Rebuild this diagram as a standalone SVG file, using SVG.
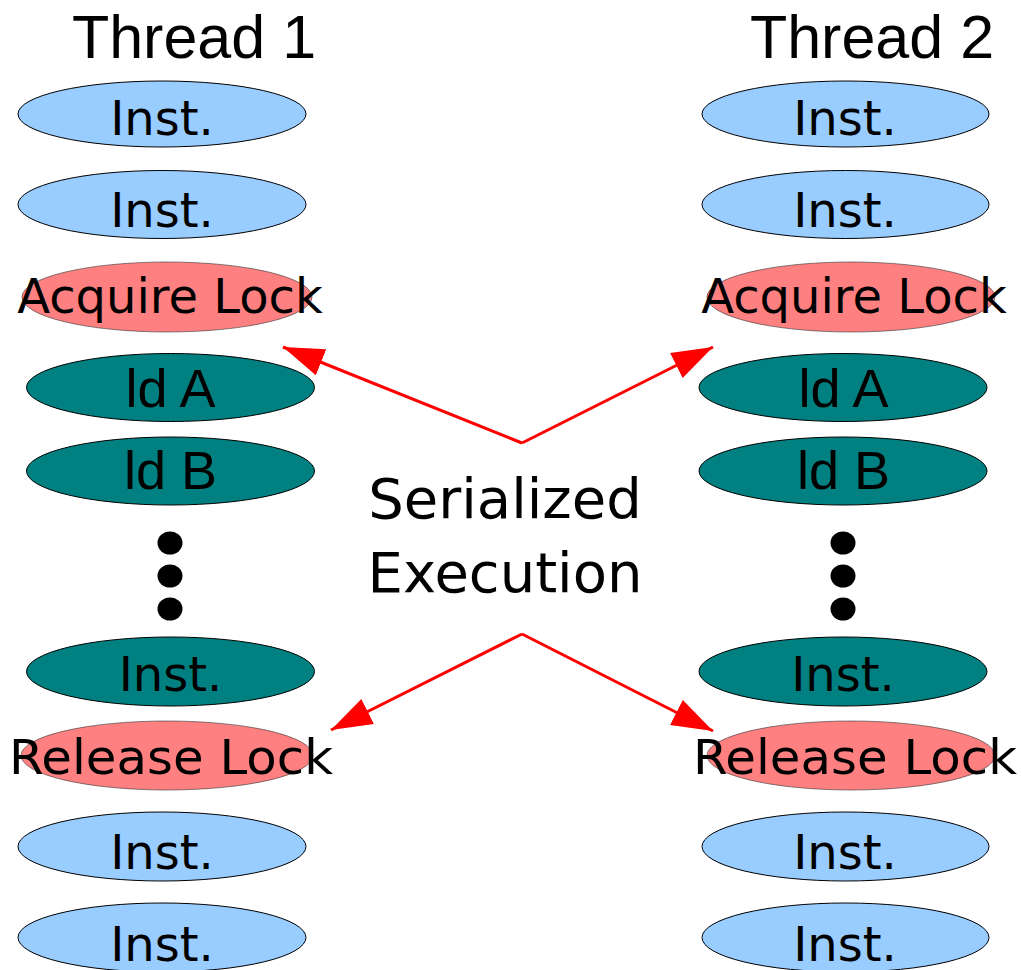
<svg xmlns="http://www.w3.org/2000/svg" width="1021" height="970" viewBox="0 0 1021 970">
<style>
.blue{fill:#99CCFF;stroke:#000;stroke-width:1}
.teal{fill:#008080;stroke:#000;stroke-width:1}
.pink{fill:#FF8080;stroke:#333;stroke-width:0.6}
.dot{fill:#000}
.t{font-family:"DejaVu Sans",sans-serif;font-size:48px;fill:#000;text-anchor:middle}
.a{font-family:"Liberation Sans",Arial,sans-serif;font-size:54px;fill:#000;text-anchor:middle}
.h{font-family:"Liberation Sans",Arial,sans-serif;font-size:61px;fill:#000;text-anchor:middle}
.m{font-family:"DejaVu Sans",sans-serif;font-size:56px;fill:#000;text-anchor:middle}
.c{fill:none;stroke:#FF0000;stroke-width:3}
</style>
<defs>
<marker id="ah" markerUnits="userSpaceOnUse" markerWidth="42" markerHeight="30" refX="41" refY="14" orient="auto">
<path d="M0,0 L41,14 L0,28 z" fill="#FF0000"/>
</marker>
</defs>
<g id="title1"><text class="h" x="194" y="58">Thread 1</text></g>
<g id="title2"><text class="h" x="872" y="58">Thread 2</text></g>

<g id="t1-inst1"><ellipse class="blue" cx="162" cy="114" rx="144" ry="33"/><text class="t" x="162" y="135">Inst.</text></g>
<g id="t1-inst2"><ellipse class="blue" cx="162" cy="204.5" rx="144" ry="34"/><text class="t" x="162" y="227">Inst.</text></g>
<g id="t1-acquire"><ellipse class="pink" cx="167" cy="297" rx="145" ry="35"/><text class="t" x="170" y="313">Acquire Lock</text></g>
<g id="t1-lda"><ellipse class="teal" cx="170.5" cy="387.5" rx="144" ry="34"/><text class="a" x="170.5" y="407">ld A</text></g>
<g id="t1-ldb"><ellipse class="teal" cx="170.5" cy="471" rx="144" ry="34"/><text class="a" x="170.5" y="489">ld B</text></g>
<g id="t1-dots"><ellipse class="dot" cx="170" cy="543" rx="12.5" ry="11.5"/><ellipse class="dot" cx="170" cy="576" rx="12.5" ry="11.5"/><ellipse class="dot" cx="170" cy="609" rx="12.5" ry="11.5"/></g>
<g id="t1-inst3"><ellipse class="teal" cx="170.5" cy="671.5" rx="144" ry="34.5"/><text class="t" x="170.5" y="691">Inst.</text></g>
<g id="t1-release"><ellipse class="pink" cx="167" cy="755.5" rx="146" ry="34.5"/><text class="t" x="171" y="774" textLength="324" lengthAdjust="spacingAndGlyphs">Release Lock</text></g>
<g id="t1-inst4"><ellipse class="blue" cx="162" cy="846.5" rx="144" ry="34.5"/><text class="t" x="162" y="869">Inst.</text></g>
<g id="t1-inst5"><ellipse class="blue" cx="162" cy="937.5" rx="144" ry="34.5"/><text class="t" x="162" y="961">Inst.</text></g>

<g id="t2-inst1"><ellipse class="blue" cx="845.5" cy="114" rx="143.5" ry="33"/><text class="t" x="845" y="135">Inst.</text></g>
<g id="t2-inst2"><ellipse class="blue" cx="845.5" cy="204.5" rx="143.5" ry="34"/><text class="t" x="845" y="227">Inst.</text></g>
<g id="t2-acquire"><ellipse class="pink" cx="851" cy="297" rx="144" ry="35"/><text class="t" x="854" y="313">Acquire Lock</text></g>
<g id="t2-lda"><ellipse class="teal" cx="843" cy="387.5" rx="144" ry="34"/><text class="a" x="843.5" y="407">ld A</text></g>
<g id="t2-ldb"><ellipse class="teal" cx="843" cy="471" rx="144" ry="34"/><text class="a" x="843.5" y="489">ld B</text></g>
<g id="t2-dots"><ellipse class="dot" cx="843" cy="543" rx="12.5" ry="11.5"/><ellipse class="dot" cx="843" cy="576" rx="12.5" ry="11.5"/><ellipse class="dot" cx="843" cy="609" rx="12.5" ry="11.5"/></g>
<g id="t2-inst3"><ellipse class="teal" cx="843" cy="671.5" rx="144" ry="34.5"/><text class="t" x="843" y="691">Inst.</text></g>
<g id="t2-release"><ellipse class="pink" cx="851" cy="755.5" rx="144" ry="34.5"/><text class="t" x="855" y="774" textLength="324" lengthAdjust="spacingAndGlyphs">Release Lock</text></g>
<g id="t2-inst4"><ellipse class="blue" cx="845.5" cy="846.5" rx="143.5" ry="34.5"/><text class="t" x="845" y="869">Inst.</text></g>
<g id="t2-inst5"><ellipse class="blue" cx="845.5" cy="937.5" rx="143.5" ry="34.5"/><text class="t" x="845" y="961">Inst.</text></g>

<g id="label"><text class="m" x="505" y="518">Serialized</text><text class="m" x="505" y="592">Execution</text></g>

<g id="connectors">
<path class="c" d="M522,443 L283,347" marker-end="url(#ah)"/>
<path class="c" d="M522,443 L713,347" marker-end="url(#ah)"/>
<path class="c" d="M522,634 L331,730" marker-end="url(#ah)"/>
<path class="c" d="M522,634 L713,731" marker-end="url(#ah)"/>
</g>
</svg>
